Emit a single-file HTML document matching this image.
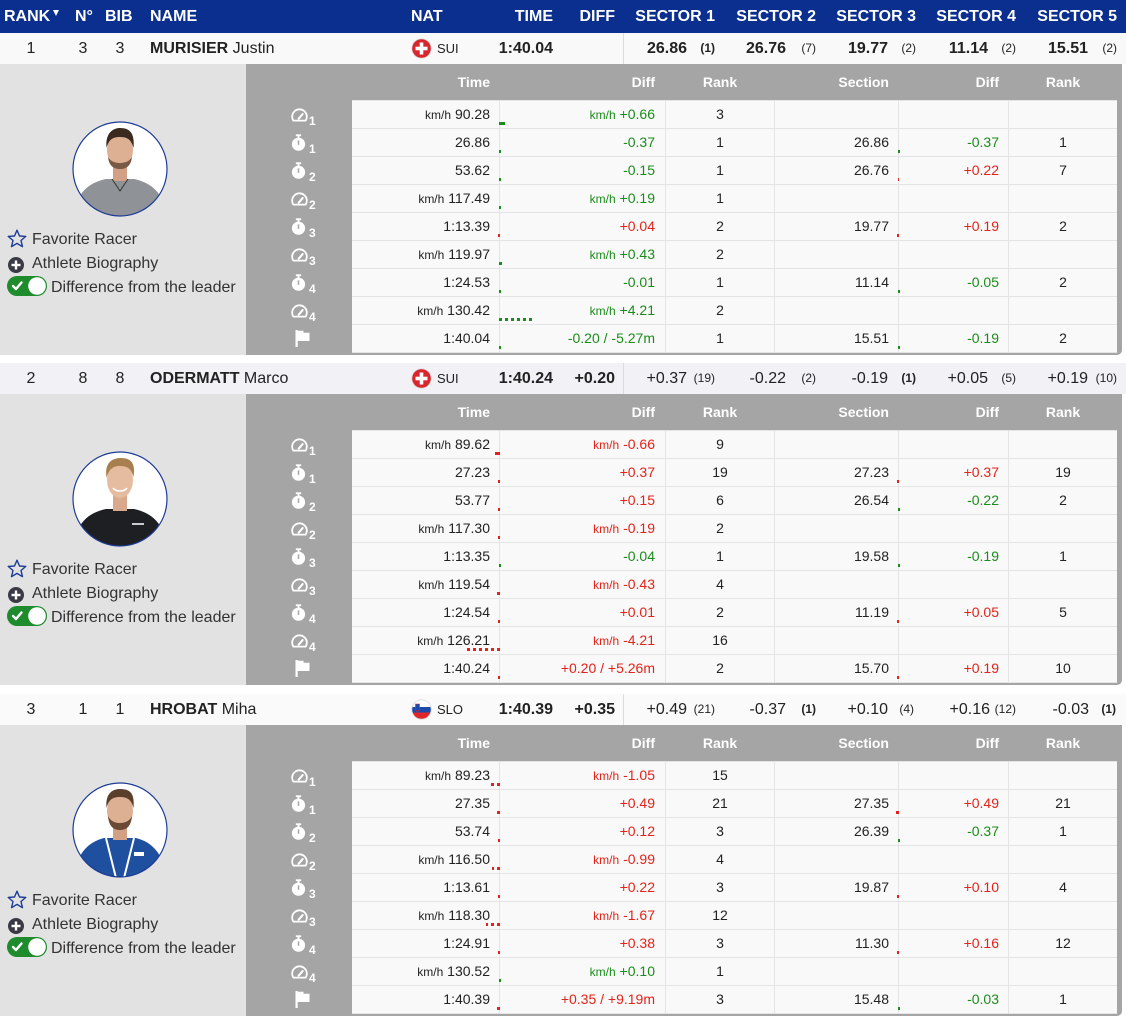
<!DOCTYPE html>
<html><head><meta charset="utf-8">
<style>
*{margin:0;padding:0;box-sizing:border-box}
body{width:1126px;height:1016px;overflow:hidden;background:#fff;font-family:"Liberation Sans",Arial,sans-serif;position:relative;color:#222}
.hdr{position:absolute;left:0;top:0;width:1126px;height:33px;background:#0b2f8e;color:#fff;font-weight:bold;font-size:16px}
.hdr span{position:absolute;top:0;line-height:34px;white-space:nowrap}
.tri{position:absolute;left:53px;top:10px;width:0;height:0;border-left:3px solid transparent;border-right:3px solid transparent;border-top:6px solid #fff}
.blk{position:absolute;left:0;width:1126px;height:322px}
.sum{position:absolute;left:0;top:0;width:1126px;height:31px;font-size:16px;color:#222}
.sum span{position:absolute;top:0;line-height:31px;white-space:nowrap}
.ct{text-align:center}
.sep{position:absolute;left:623px;top:0;width:1px;height:31px;background:#dcdcdc}
.sum .rk{font-size:12px;line-height:30px}
.sum .cc{font-size:13px;left:437px}
.fl{position:absolute;left:411px;top:5px;width:21px;height:21px}
.det{position:absolute;left:0;top:31px;width:1126px;height:291px}
.lp{position:absolute;left:0;top:0;width:246px;height:291px;background:#e2e2e2}
.gp{position:absolute;left:246px;top:0;width:876px;height:291px;background:#a5a5a5;border-bottom-right-radius:5px}
.ph{position:absolute;left:72px;top:57px}
.lt{position:absolute;font-size:16px;color:#333;line-height:20px;white-space:nowrap}
.tb{position:absolute;left:352px;top:0;width:765px}
.h{display:flex;height:36px;color:#fff;font-weight:bold;font-size:14px;line-height:36px}
.rows{border-bottom:1px solid #e4e4e4}
.r{display:flex;height:28px;border-top:1px solid #e4e4e4;background:#f9f9f9;font-size:14px;line-height:27px}
.a,.b,.c,.d,.e,.f{position:relative;white-space:nowrap}
.a{width:147px;text-align:right;padding-right:9px}
.b{width:166px;text-align:right;padding-right:10px}
.c{width:109px;text-align:center}
.d{width:124px;text-align:right;padding-right:9px}
.e{width:110px;text-align:right;padding-right:9px}
.f{width:109px;text-align:center}
.r .b,.r .c,.r .d,.r .e,.r .f{border-left:1px solid #e4e4e4}
.h .b,.h .c,.h .d,.h .e,.h .f{border-left:1px solid transparent}
small{font-size:12px}
.G{color:#1a8c1a}.R{color:#e2231a}
.bg,.br,.dg,.dr{position:absolute;bottom:3px;height:3px}
.bg{left:-1px;background:#1a8c1a}
.br{right:100%;background:#e2231a}
.dg{left:-1px;background:repeating-linear-gradient(to right,#1a8c1a 0 3px,transparent 3px 6px)}
.dr{right:100%;background:repeating-linear-gradient(to left,#e2231a 0 3px,transparent 3px 6px)}
.ic{position:absolute;left:-61px;top:0;width:40px;height:27px}
.ic svg{position:absolute;left:0}
.ic b{position:absolute;left:18px;top:13px;font-size:12px;color:#fff;line-height:14px}
.ig{top:7px}.is{top:5px}
.ifl{left:4px!important;top:5px}
</style></head><body>
<svg width="0" height="0" style="position:absolute">
<defs>
<symbol id="g" viewBox="0 0 16 13"><path d="M2.2,11.8 A6.9,6.9 0 1 1 13.8,11.8 Z" fill="none" stroke="#fff" stroke-width="1.7" stroke-linejoin="round"/><path d="M7.2,10 L11,5.6" stroke="#fff" stroke-width="1.9" stroke-linecap="round"/></symbol>
<symbol id="s" viewBox="0 0 14 16"><rect x="4.5" y="0.3" width="5" height="1.7" fill="#fff"/><rect x="6.1" y="1.5" width="1.8" height="2.5" fill="#fff"/><circle cx="7" cy="9.6" r="6.2" fill="#fff"/><rect x="6.3" y="6" width="1.4" height="4.2" fill="#a5a5a5"/></symbol>
<symbol id="f" viewBox="0 0 15 17"><rect x="0.5" y="0" width="2.2" height="17" fill="#fff"/><path d="M2.5,0.8 L8.5,0.8 L8.5,2.8 L14.5,2.8 L14.5,11 L2.5,11Z" fill="#fff"/></symbol>
<symbol id="star" viewBox="0 0 20 19"><path d="M10,1.2 L12.5,7 L18.8,7.4 L14,11.5 L15.5,17.7 L10,14.4 L4.5,17.7 L6,11.5 L1.2,7.4 L7.5,7 Z" fill="none" stroke="#1d3b96" stroke-width="1.4" stroke-linejoin="round"/></symbol>
<symbol id="plus" viewBox="0 0 16 16"><circle cx="8" cy="8" r="8" fill="#3a3a45"/><rect x="3.5" y="6.8" width="9" height="2.4" fill="#fff"/><rect x="6.8" y="3.5" width="2.4" height="9" fill="#fff"/></symbol>
<symbol id="tog" viewBox="0 0 40 20"><rect x="0" y="0" width="40" height="20" rx="10" fill="#1e8b2c"/><circle cx="30" cy="10" r="8.8" fill="#fff"/><path d="M6,10 L9,13 L14.5,6.5" fill="none" stroke="#fff" stroke-width="2.4" stroke-linecap="round" stroke-linejoin="round"/></symbol>
<symbol id="sui" viewBox="0 0 21 21"><circle cx="10.5" cy="10.5" r="10.2" fill="#ddd"/><circle cx="10.5" cy="10.5" r="9.3" fill="#d7262d"/><rect x="8.7" y="4.5" width="3.6" height="12" fill="#fff"/><rect x="4.5" y="8.7" width="12" height="3.6" fill="#fff"/></symbol>
<clipPath id="slc"><circle cx="10.5" cy="10.5" r="9.3"/></clipPath>
<symbol id="slo" viewBox="0 0 21 21"><circle cx="10.5" cy="10.5" r="10.2" fill="#ddd"/><g clip-path="url(#slc)"><rect x="0" y="0" width="21" height="8" fill="#fff"/><rect x="0" y="8" width="21" height="5.5" fill="#1d4aa8"/><rect x="0" y="13.5" width="21" height="8" fill="#e0262b"/><path d="M4.5,5 L8.5,5 L8.5,10 C8.5,11.5 6.5,12.5 6.5,12.5 C6.5,12.5 4.5,11.5 4.5,10Z" fill="#1d4aa8" stroke="#e0262b" stroke-width="0.6"/></g></symbol>
</defs></svg>

<div class="hdr">
<span style="left:4px">RANK</span><i class="tri"></i>
<span style="left:75px">N°</span>
<span style="left:105px">BIB</span>
<span style="left:150px">NAME</span>
<span style="left:411px">NAT</span>
<span style="right:573px">TIME</span>
<span style="right:511px">DIFF</span>
<span style="right:411px">SECTOR 1</span>
<span style="right:310px">SECTOR 2</span>
<span style="right:210px">SECTOR 3</span>
<span style="right:110px">SECTOR 4</span>
<span style="right:9px">SECTOR 5</span>
</div>

<!-- BLOCK 1 -->
<div class="blk" style="top:33px">
<div class="sum" style="background:#f9f9f9">
<span class="ct" style="left:0;width:62px">1</span>
<span class="ct" style="left:68px;width:30px">3</span>
<span class="ct" style="left:105px;width:30px">3</span>
<span style="left:150px"><b>MURISIER</b> Justin</span>
<svg class="fl"><use href="#sui"/></svg>
<span class="cc">SUI</span>
<span style="right:573px;font-weight:bold">1:40.04</span>
<i class="sep"></i>
<span style="right:439px;font-weight:bold">26.86</span><span class="rk" style="right:411px;font-weight:bold">(1)</span>
<span style="right:340px;font-weight:bold">26.76</span><span class="rk" style="right:310px">(7)</span>
<span style="right:238px;font-weight:bold">19.77</span><span class="rk" style="right:210px">(2)</span>
<span style="right:138px;font-weight:bold">11.14</span><span class="rk" style="right:110px">(2)</span>
<span style="right:38px;font-weight:bold">15.51</span><span class="rk" style="right:9px">(2)</span>
</div>
<div class="det">
<div class="lp">
<svg class="ph" width="96" height="96" viewBox="0 0 96 96"><defs><clipPath id="p1"><circle cx="48" cy="48" r="47"/></clipPath></defs><g clip-path="url(#p1)"><rect width="96" height="96" fill="#fff"/><path d="M2,96 C4,72 16,62 34,58 L62,58 C80,62 92,72 94,96Z" fill="#8f9297"/><rect x="41" y="40" width="14" height="20" fill="#d2a084"/><path d="M40,58 L48,70 L56,58" fill="none" stroke="#2a3a2a" stroke-width="1"/><ellipse cx="48" cy="29" rx="13" ry="18" fill="#deb093"/><path d="M36,36 C37,46 43,48 48,48 C53,48 59,46 60,36 C57,41 52,42 48,42 C44,42 39,41 36,36Z" fill="#7a5a45"/><path d="M34.5,27 C33,11 42,7 48,7 C57,7 63,11 61.5,27 C59,18 55,16 48,16 C41,16 37,18 34.5,27Z" fill="#3b2a20"/></g><circle cx="48" cy="48" r="47" fill="none" stroke="#1d3b96" stroke-width="1.2"/></svg>
<svg style="position:absolute;left:7px;top:165px" width="20" height="19"><use href="#star"/></svg>
<span class="lt" style="left:32px;top:166px">Favorite Racer</span>
<svg style="position:absolute;left:8px;top:193px" width="16" height="16"><use href="#plus"/></svg>
<span class="lt" style="left:32px;top:190px">Athlete Biography</span>
<svg style="position:absolute;left:7px;top:212px" width="40" height="20"><use href="#tog"/></svg>
<span class="lt" style="left:51px;top:214px">Difference from the leader</span>
</div>
<div class="gp"></div>
<div class="tb">
<div class="h"><div class="a">Time</div><div class="b">Diff</div><div class="c">Rank</div><div class="d">Section</div><div class="e">Diff</div><div class="f">Rank</div></div>
<div class="rows">
<div class="r"><div class="a"><span class="ic"><svg class="ig" width="17" height="14"><use href="#g"/></svg><b>1</b></span><small>km/h</small> 90.28</div><div class="b G"><i class="bg" style="width:6px"></i><small>km/h</small> +0.66</div><div class="c">3</div><div class="d"></div><div class="e"></div><div class="f"></div></div>
<div class="r"><div class="a"><span class="ic"><svg class="is" width="15" height="17"><use href="#s"/></svg><b>1</b></span>26.86</div><div class="b G"><i class="bg" style="width:2px"></i>-0.37</div><div class="c">1</div><div class="d">26.86</div><div class="e G"><i class="bg" style="width:2px"></i>-0.37</div><div class="f">1</div></div>
<div class="r"><div class="a"><span class="ic"><svg class="is" width="15" height="17"><use href="#s"/></svg><b>2</b></span>53.62</div><div class="b G"><i class="bg" style="width:2px"></i>-0.15</div><div class="c">1</div><div class="d">26.76</div><div class="e R"><i class="br" style="width:1px"></i>+0.22</div><div class="f">7</div></div>
<div class="r"><div class="a"><span class="ic"><svg class="ig" width="17" height="14"><use href="#g"/></svg><b>2</b></span><small>km/h</small> 117.49</div><div class="b G"><i class="bg" style="width:2px"></i><small>km/h</small> +0.19</div><div class="c">1</div><div class="d"></div><div class="e"></div><div class="f"></div></div>
<div class="r"><div class="a"><span class="ic"><svg class="is" width="15" height="17"><use href="#s"/></svg><b>3</b></span>1:13.39</div><div class="b R"><i class="br" style="width:2px"></i>+0.04</div><div class="c">2</div><div class="d">19.77</div><div class="e R"><i class="br" style="width:2px"></i>+0.19</div><div class="f">2</div></div>
<div class="r"><div class="a"><span class="ic"><svg class="ig" width="17" height="14"><use href="#g"/></svg><b>3</b></span><small>km/h</small> 119.97</div><div class="b G"><i class="bg" style="width:3px"></i><small>km/h</small> +0.43</div><div class="c">2</div><div class="d"></div><div class="e"></div><div class="f"></div></div>
<div class="r"><div class="a"><span class="ic"><svg class="is" width="15" height="17"><use href="#s"/></svg><b>4</b></span>1:24.53</div><div class="b G"><i class="bg" style="width:2px"></i>-0.01</div><div class="c">1</div><div class="d">11.14</div><div class="e G"><i class="bg" style="width:2px"></i>-0.05</div><div class="f">2</div></div>
<div class="r"><div class="a"><span class="ic"><svg class="ig" width="17" height="14"><use href="#g"/></svg><b>4</b></span><small>km/h</small> 130.42</div><div class="b G"><i class="dg" style="width:35px"></i><small>km/h</small> +4.21</div><div class="c">2</div><div class="d"></div><div class="e"></div><div class="f"></div></div>
<div class="r"><div class="a"><span class="ic"><svg class="ifl" width="15" height="17"><use href="#f"/></svg></span>1:40.04</div><div class="b G"><i class="bg" style="width:2px"></i>-0.20 / -5.27m</div><div class="c">1</div><div class="d">15.51</div><div class="e G"><i class="bg" style="width:2px"></i>-0.19</div><div class="f">2</div></div>
</div></div>
</div>
</div>

<!-- BLOCK 2 -->
<div class="blk" style="top:363px">
<div class="sum" style="background:#f1f1f6">
<span class="ct" style="left:0;width:62px">2</span>
<span class="ct" style="left:68px;width:30px">8</span>
<span class="ct" style="left:105px;width:30px">8</span>
<span style="left:150px"><b>ODERMATT</b> Marco</span>
<svg class="fl"><use href="#sui"/></svg>
<span class="cc">SUI</span>
<span style="right:573px;font-weight:bold">1:40.24</span>
<span style="right:511px;font-weight:bold">+0.20</span>
<i class="sep"></i>
<span style="right:439px">+0.37</span><span class="rk" style="right:411px">(19)</span>
<span style="right:340px">-0.22</span><span class="rk" style="right:310px">(2)</span>
<span style="right:238px">-0.19</span><span class="rk" style="right:210px;font-weight:bold">(1)</span>
<span style="right:138px">+0.05</span><span class="rk" style="right:110px">(5)</span>
<span style="right:38px">+0.19</span><span class="rk" style="right:9px">(10)</span>
</div>
<div class="det">
<div class="lp">
<svg class="ph" width="96" height="96" viewBox="0 0 96 96"><defs><clipPath id="p2"><circle cx="48" cy="48" r="47"/></clipPath></defs><g clip-path="url(#p2)"><rect width="96" height="96" fill="#fff"/><path d="M2,96 C4,72 16,62 34,58 L62,58 C80,62 92,72 94,96Z" fill="#1e1f23"/><rect x="41" y="40" width="14" height="20" fill="#d8a98c"/><ellipse cx="48" cy="29" rx="13" ry="18" fill="#e6bca0"/><path d="M34.5,27 C32,10 42,7 49,7 C58,7 64,11 61.5,26 C59,17 55,15 48,15 C41,15 37,18 34.5,27Z" fill="#a8804f"/><path d="M41,37 C44,41 52,41 55,37" fill="none" stroke="#fff" stroke-width="1.6"/><rect x="60" y="72" width="12" height="2" fill="#ccc"/></g><circle cx="48" cy="48" r="47" fill="none" stroke="#1d3b96" stroke-width="1.2"/></svg>
<svg style="position:absolute;left:7px;top:165px" width="20" height="19"><use href="#star"/></svg>
<span class="lt" style="left:32px;top:166px">Favorite Racer</span>
<svg style="position:absolute;left:8px;top:193px" width="16" height="16"><use href="#plus"/></svg>
<span class="lt" style="left:32px;top:190px">Athlete Biography</span>
<svg style="position:absolute;left:7px;top:212px" width="40" height="20"><use href="#tog"/></svg>
<span class="lt" style="left:51px;top:214px">Difference from the leader</span>
</div>
<div class="gp"></div>
<div class="tb">
<div class="h"><div class="a">Time</div><div class="b">Diff</div><div class="c">Rank</div><div class="d">Section</div><div class="e">Diff</div><div class="f">Rank</div></div>
<div class="rows">
<div class="r"><div class="a"><span class="ic"><svg class="ig" width="17" height="14"><use href="#g"/></svg><b>1</b></span><small>km/h</small> 89.62</div><div class="b R"><i class="br" style="width:5px"></i><small>km/h</small> -0.66</div><div class="c">9</div><div class="d"></div><div class="e"></div><div class="f"></div></div>
<div class="r"><div class="a"><span class="ic"><svg class="is" width="15" height="17"><use href="#s"/></svg><b>1</b></span>27.23</div><div class="b R"><i class="br" style="width:2px"></i>+0.37</div><div class="c">19</div><div class="d">27.23</div><div class="e R"><i class="br" style="width:2px"></i>+0.37</div><div class="f">19</div></div>
<div class="r"><div class="a"><span class="ic"><svg class="is" width="15" height="17"><use href="#s"/></svg><b>2</b></span>53.77</div><div class="b R"><i class="br" style="width:2px"></i>+0.15</div><div class="c">6</div><div class="d">26.54</div><div class="e G"><i class="bg" style="width:2px"></i>-0.22</div><div class="f">2</div></div>
<div class="r"><div class="a"><span class="ic"><svg class="ig" width="17" height="14"><use href="#g"/></svg><b>2</b></span><small>km/h</small> 117.30</div><div class="b R"><i class="br" style="width:2px"></i><small>km/h</small> -0.19</div><div class="c">2</div><div class="d"></div><div class="e"></div><div class="f"></div></div>
<div class="r"><div class="a"><span class="ic"><svg class="is" width="15" height="17"><use href="#s"/></svg><b>3</b></span>1:13.35</div><div class="b G"><i class="bg" style="width:2px"></i>-0.04</div><div class="c">1</div><div class="d">19.58</div><div class="e G"><i class="bg" style="width:2px"></i>-0.19</div><div class="f">1</div></div>
<div class="r"><div class="a"><span class="ic"><svg class="ig" width="17" height="14"><use href="#g"/></svg><b>3</b></span><small>km/h</small> 119.54</div><div class="b R"><i class="br" style="width:3px"></i><small>km/h</small> -0.43</div><div class="c">4</div><div class="d"></div><div class="e"></div><div class="f"></div></div>
<div class="r"><div class="a"><span class="ic"><svg class="is" width="15" height="17"><use href="#s"/></svg><b>4</b></span>1:24.54</div><div class="b R"><i class="br" style="width:2px"></i>+0.01</div><div class="c">2</div><div class="d">11.19</div><div class="e R"><i class="br" style="width:2px"></i>+0.05</div><div class="f">5</div></div>
<div class="r"><div class="a"><span class="ic"><svg class="ig" width="17" height="14"><use href="#g"/></svg><b>4</b></span><small>km/h</small> 126.21</div><div class="b R"><i class="dr" style="width:33px"></i><small>km/h</small> -4.21</div><div class="c">16</div><div class="d"></div><div class="e"></div><div class="f"></div></div>
<div class="r"><div class="a"><span class="ic"><svg class="ifl" width="15" height="17"><use href="#f"/></svg></span>1:40.24</div><div class="b R"><i class="br" style="width:2px"></i>+0.20 / +5.26m</div><div class="c">2</div><div class="d">15.70</div><div class="e R"><i class="br" style="width:2px"></i>+0.19</div><div class="f">10</div></div>
</div></div>
</div>
</div>

<!-- BLOCK 3 -->
<div class="blk" style="top:694px">
<div class="sum" style="background:#fafafa">
<span class="ct" style="left:0;width:62px">3</span>
<span class="ct" style="left:68px;width:30px">1</span>
<span class="ct" style="left:105px;width:30px">1</span>
<span style="left:150px"><b>HROBAT</b> Miha</span>
<svg class="fl"><use href="#slo"/></svg>
<span class="cc">SLO</span>
<span style="right:573px;font-weight:bold">1:40.39</span>
<span style="right:511px;font-weight:bold">+0.35</span>
<i class="sep"></i>
<span style="right:439px">+0.49</span><span class="rk" style="right:411px">(21)</span>
<span style="right:340px">-0.37</span><span class="rk" style="right:310px;font-weight:bold">(1)</span>
<span style="right:238px">+0.10</span><span class="rk" style="right:212px">(4)</span>
<span style="right:136px">+0.16</span><span class="rk" style="right:110px">(12)</span>
<span style="right:37px">-0.03</span><span class="rk" style="right:10px;font-weight:bold">(1)</span>
</div>
<div class="det">
<div class="lp">
<svg class="ph" width="96" height="96" viewBox="0 0 96 96"><defs><clipPath id="p3"><circle cx="48" cy="48" r="47"/></clipPath></defs><g clip-path="url(#p3)"><rect width="96" height="96" fill="#fff"/><path d="M2,96 C4,72 16,60 32,56 L64,56 C80,60 92,72 94,96Z" fill="#1f4f9f"/><path d="M34,56 L44,96 M62,56 L52,96" stroke="#fff" stroke-width="2"/><rect x="62" y="70" width="10" height="4" fill="#fff"/><rect x="41" y="40" width="14" height="18" fill="#d2a084"/><ellipse cx="48" cy="29" rx="13" ry="18" fill="#deb093"/><path d="M36,34 C37,46 43,48 48,48 C53,48 59,46 60,34 C57,40 52,41 48,41 C44,41 39,40 36,34Z" fill="#6b4a35"/><path d="M34.5,26 C33,10 42,7 48,7 C57,7 63,10 61.5,26 C59,17 55,15 48,15 C41,15 37,17 34.5,26Z" fill="#5a3f2b"/></g><circle cx="48" cy="48" r="47" fill="none" stroke="#1d3b96" stroke-width="1.2"/></svg>
<svg style="position:absolute;left:7px;top:165px" width="20" height="19"><use href="#star"/></svg>
<span class="lt" style="left:32px;top:166px">Favorite Racer</span>
<svg style="position:absolute;left:8px;top:193px" width="16" height="16"><use href="#plus"/></svg>
<span class="lt" style="left:32px;top:190px">Athlete Biography</span>
<svg style="position:absolute;left:7px;top:212px" width="40" height="20"><use href="#tog"/></svg>
<span class="lt" style="left:51px;top:214px">Difference from the leader</span>
</div>
<div class="gp"></div>
<div class="tb">
<div class="h"><div class="a">Time</div><div class="b">Diff</div><div class="c">Rank</div><div class="d">Section</div><div class="e">Diff</div><div class="f">Rank</div></div>
<div class="rows">
<div class="r"><div class="a"><span class="ic"><svg class="ig" width="17" height="14"><use href="#g"/></svg><b>1</b></span><small>km/h</small> 89.23</div><div class="b R"><i class="dr" style="width:9px"></i><small>km/h</small> -1.05</div><div class="c">15</div><div class="d"></div><div class="e"></div><div class="f"></div></div>
<div class="r"><div class="a"><span class="ic"><svg class="is" width="15" height="17"><use href="#s"/></svg><b>1</b></span>27.35</div><div class="b R"><i class="br" style="width:3px"></i>+0.49</div><div class="c">21</div><div class="d">27.35</div><div class="e R"><i class="br" style="width:3px"></i>+0.49</div><div class="f">21</div></div>
<div class="r"><div class="a"><span class="ic"><svg class="is" width="15" height="17"><use href="#s"/></svg><b>2</b></span>53.74</div><div class="b R"><i class="br" style="width:2px"></i>+0.12</div><div class="c">3</div><div class="d">26.39</div><div class="e G"><i class="bg" style="width:2px"></i>-0.37</div><div class="f">1</div></div>
<div class="r"><div class="a"><span class="ic"><svg class="ig" width="17" height="14"><use href="#g"/></svg><b>2</b></span><small>km/h</small> 116.50</div><div class="b R"><i class="dr" style="width:8px"></i><small>km/h</small> -0.99</div><div class="c">4</div><div class="d"></div><div class="e"></div><div class="f"></div></div>
<div class="r"><div class="a"><span class="ic"><svg class="is" width="15" height="17"><use href="#s"/></svg><b>3</b></span>1:13.61</div><div class="b R"><i class="br" style="width:2px"></i>+0.22</div><div class="c">3</div><div class="d">19.87</div><div class="e R"><i class="br" style="width:2px"></i>+0.10</div><div class="f">4</div></div>
<div class="r"><div class="a"><span class="ic"><svg class="ig" width="17" height="14"><use href="#g"/></svg><b>3</b></span><small>km/h</small> 118.30</div><div class="b R"><i class="dr" style="width:14px"></i><small>km/h</small> -1.67</div><div class="c">12</div><div class="d"></div><div class="e"></div><div class="f"></div></div>
<div class="r"><div class="a"><span class="ic"><svg class="is" width="15" height="17"><use href="#s"/></svg><b>4</b></span>1:24.91</div><div class="b R"><i class="br" style="width:2px"></i>+0.38</div><div class="c">3</div><div class="d">11.30</div><div class="e R"><i class="br" style="width:2px"></i>+0.16</div><div class="f">12</div></div>
<div class="r"><div class="a"><span class="ic"><svg class="ig" width="17" height="14"><use href="#g"/></svg><b>4</b></span><small>km/h</small> 130.52</div><div class="b G"><i class="bg" style="width:2px"></i><small>km/h</small> +0.10</div><div class="c">1</div><div class="d"></div><div class="e"></div><div class="f"></div></div>
<div class="r"><div class="a"><span class="ic"><svg class="ifl" width="15" height="17"><use href="#f"/></svg></span>1:40.39</div><div class="b R"><i class="br" style="width:3px"></i>+0.35 / +9.19m</div><div class="c">3</div><div class="d">15.48</div><div class="e G"><i class="bg" style="width:2px"></i>-0.03</div><div class="f">1</div></div>
</div></div>
</div>
</div>
</body></html>
